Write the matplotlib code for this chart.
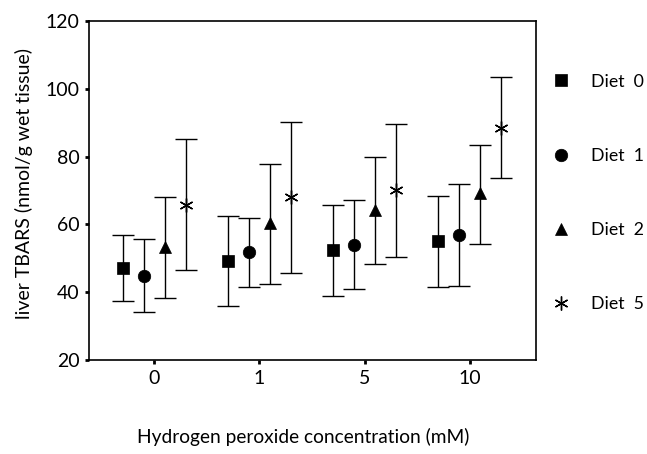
#
# plot.py - liver TBARS vs hydrogen peroxide concentration, per diet
#
import numpy as np
import matplotlib
matplotlib.use('Agg')
import matplotlib.pyplot as plt

plt.rcParams['font.family'] = ['Lato', 'DejaVu Sans']

# x categories (hydrogen peroxide, mM)
concentrations = ['0', '1', '5', '10']
diets = ['Diet  0', 'Diet  1', 'Diet  2', 'Diet  5']

# means, one list per diet
means = {
    'Diet  0': [47.0, 49.2, 52.6, 55.0],
    'Diet  1': [44.9, 51.8, 53.9, 56.9],
    'Diet  2': [53.2, 60.3, 64.4, 69.2],
    'Diet  5': [65.7, 68.2, 70.1, 88.4],
}
# top and bottom of each error bar
upper = {
    'Diet  0': [57.0, 62.6, 65.8, 68.4],
    'Diet  1': [55.7, 61.9, 67.3, 72.0],
    'Diet  2': [68.1, 77.7, 80.0, 83.5],
    'Diet  5': [85.3, 90.3, 89.7, 103.4],
}
lower = {
    'Diet  0': [37.4, 35.8, 38.8, 41.6],
    'Diet  1': [34.2, 41.6, 40.9, 41.9],
    'Diet  2': [38.4, 42.4, 48.2, 54.3],
    'Diet  5': [46.7, 45.8, 50.3, 73.8],
}

markers = ['s', 'o', '^', (6, 2, 0)]
sizes = [8, 9, 9, 10]
offsets = [-0.3, -0.1, 0.1, 0.3]

fig = plt.figure(figsize=(6.47, 4.54), dpi=100)
ax = fig.add_axes([0.1376, 0.207, 0.6908, 0.7467])

x = np.arange(len(concentrations))
handles = []
for diet, m, ms, off in zip(diets, markers, sizes, offsets):
    y = np.array(means[diet])
    err = [y - np.array(lower[diet]), np.array(upper[diet]) - y]
    ax.errorbar(x + off, y, yerr=err, fmt='none', ecolor='black',
                elinewidth=1, capsize=8, capthick=1)
    h, = ax.plot(x + off, y, linestyle='none', marker=m, markersize=ms,
                 color='black', markeredgewidth=1.0 if m == (6, 2, 0) else 0.5,
                 label=diet)
    handles.append(h)

ax.set_xlim(-0.62, 3.63)
ax.set_ylim(20, 120)
ax.set_xticks(x)
ax.set_xticklabels(concentrations)
ax.set_yticks(np.arange(20, 121, 20))
ax.tick_params(direction='out', length=3, width=2, labelsize=14, pad=4)
for s in ax.spines.values():
    s.set_linewidth(1.2)

ax.set_xlabel('Hydrogen peroxide concentration (mM)', fontsize=13.8, labelpad=30)
ax.set_ylabel('liver TBARS (nmol/g wet tissue)', fontsize=14, labelpad=9)
ax.xaxis.label.set_x(0.48)
ax.yaxis.label.set_y(0.52)

ax.legend(handles=handles, loc='upper left', bbox_to_anchor=(1.02, 0.866),
          frameon=False, numpoints=1, handlelength=1, handletextpad=1.2,
          labelspacing=3.28, fontsize=12.8, borderaxespad=0)

fig.savefig('out.png', dpi=100)
